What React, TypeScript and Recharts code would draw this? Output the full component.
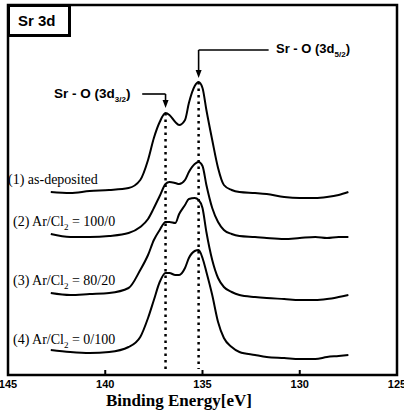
import React from "react"
import { LineChart, Line, XAxis, YAxis, ReferenceLine, ReferenceArea } from "recharts"

// binding energy grid (eV)
const energy = [
  142.8, 141.8, 140.8, 139.8, 138.8, 138.2, 137.8, 137.5, 137.2, 136.9, 136.7, 136.4, 136.2, 135.9, 135.7, 135.4,
  135.2, 135.0, 134.8, 134.5, 134.2, 133.9, 133.5, 133.1, 132.3, 131.7, 130.8, 130.0, 129.2, 128.6, 128.0, 127.5,
]

// stacked intensities (a.u., offsets included)
const asDeposited = [
  183, 182, 184, 185, 187, 195, 215, 237, 253, 262, 260, 253, 250, 255, 272, 289,
  293, 287, 265, 235, 207, 190, 185, 183, 182, 181, 178, 177, 177, 178, 180, 183,
]
const arCl100_0 = [
  141, 138, 138, 139, 142, 148, 156, 167, 179, 191, 193, 192, 191, 195, 203, 211,
  213, 209, 190, 167, 153, 145, 141, 139, 138, 137, 136, 137, 138, 137, 138, 138,
]
const arCl80_20 = [
  82, 80, 81, 82, 87, 105, 120, 135, 145, 153, 153, 152, 161, 170, 176, 177,
  175, 167, 143, 115, 97, 88, 83, 80, 78, 77, 76, 75, 75, 76, 78, 80,
]
const arCl0_100 = [
  25, 23, 22, 23, 28, 38, 57, 75, 93, 102, 102, 100, 100, 107, 117, 124,
  125, 117, 103, 80, 53, 37, 28, 23, 20, 18, 17, 16, 16, 18, 19, 20,
]

const xTicks = [145, 140, 135, 130, 125]
const peak32 = 136.9
const peak52 = 135.2

const data = energy.map((e, i) => ({
  e,
  s1: asDeposited[i],
  s2: arCl100_0[i],
  s3: arCl80_20[i],
  s4: arCl0_100[i],
}))

const SANS = "'Liberation Sans', Arial, sans-serif"
const SERIF = "'Liberation Serif', 'Times New Roman', serif"

const EnergyTick = (props: any) => {
  const { x, y, payload } = props
  const v = payload.value
  const inner = v !== 145 && v !== 125
  return (
    <g>
      {inner && <line x1={x} y1={y} x2={x} y2={y - 5} stroke="#000" strokeWidth={2} />}
      <text x={x} y={y + 13} textAnchor="middle" fontFamily={SANS} fontWeight="bold" fontSize={11} fill="#000">
        {v}
      </text>
    </g>
  )
}

// line with a filled arrowhead at its end (pointing down)
const arrowDown = (props: any) => {
  const { x1, y1, x2, y2 } = props
  return (
    <g>
      <line x1={x1} y1={y1} x2={x2} y2={y2 - 4} stroke="#000" strokeWidth={1.6} />
      <polygon points={`${x2 - 3},${y2 - 8} ${x2 + 3},${y2 - 8} ${x2},${y2}`} fill="#000" />
    </g>
  )
}

const plainLine = (props: any) => {
  const { x1, y1, x2, y2 } = props
  return <line x1={x1} y1={y1} x2={x2} y2={y2} stroke="#000" strokeWidth={1.6} />
}

const sampleLabels = [
  { n: "(1) as-deposited", ratio: "", top: 172, left: 8 },
  { n: "(2) Ar/Cl", ratio: " = 100/0", top: 214, left: 13 },
  { n: "(3) Ar/Cl", ratio: " = 80/20", top: 273, left: 13 },
  { n: "(4) Ar/Cl", ratio: " = 0/100", top: 332, left: 13 },
]

export default function App() {
  return (
    <div style={{ position: "relative", width: 404, height: 419, background: "#fff" }}>
      <style>{"body{margin:0}"}</style>
      <LineChart width={404} height={419} data={data} margin={{ top: 5, right: 7, left: 8, bottom: 0 }}>
        <XAxis
          dataKey="e"
          type="number"
          domain={[125, 145]}
          reversed
          ticks={xTicks}
          height={44}
          axisLine={false}
          tickLine={false}
          tickSize={0}
          tickMargin={0}
          tick={EnergyTick}
          interval={0}
        />
        <YAxis hide domain={[0, 370]} />
        <ReferenceArea x1={145} x2={125} y1={0} y2={370} fill="none" stroke="#000" strokeWidth={2.5} ifOverflow="visible" />

        <ReferenceLine segment={[{ x: peak32, y: 262 }, { x: peak32, y: 6 }]} stroke="#000" strokeWidth={2.5} strokeDasharray="2.5 4" ifOverflow="visible" />
        <ReferenceLine segment={[{ x: peak52, y: 293 }, { x: peak52, y: 6 }]} stroke="#000" strokeWidth={2.5} strokeDasharray="2.5 4" ifOverflow="visible" />

        <ReferenceLine segment={[{ x: 138.1, y: 281 }, { x: peak32, y: 281 }]} shape={plainLine} ifOverflow="visible" />
        <ReferenceLine segment={[{ x: peak32, y: 281 }, { x: peak32, y: 267 }]} shape={arrowDown} ifOverflow="visible" />
        <ReferenceLine segment={[{ x: peak52, y: 325 }, { x: 131.6, y: 325 }]} shape={plainLine} ifOverflow="visible" />
        <ReferenceLine segment={[{ x: peak52, y: 325 }, { x: peak52, y: 297 }]} shape={arrowDown} ifOverflow="visible" />

        <Line dataKey="s1" type="monotone" stroke="#000" strokeWidth={2} dot={false} isAnimationActive={false} />
        <Line dataKey="s2" type="monotone" stroke="#000" strokeWidth={2} dot={false} isAnimationActive={false} />
        <Line dataKey="s3" type="monotone" stroke="#000" strokeWidth={2} dot={false} isAnimationActive={false} />
        <Line dataKey="s4" type="monotone" stroke="#000" strokeWidth={2} dot={false} isAnimationActive={false} />
      </LineChart>

      <div
        style={{
          position: "absolute", left: 8, top: 5, width: 50, height: 27, background: "#fff",
          borderLeft: "2px solid #000", borderTop: "2px solid #000", borderRight: "3px solid #000", borderBottom: "3px solid #000",
          fontFamily: SANS, fontWeight: "bold", fontSize: 15, lineHeight: "27px", paddingLeft: 8, boxSizing: "content-box",
        }}
      >
        Sr 3d
      </div>

      <div style={{ position: "absolute", left: 54, top: 86, fontFamily: SANS, fontWeight: "bold", fontSize: 13.5, lineHeight: "15px", whiteSpace: "nowrap" }}>
        Sr - O (3d<sub style={{ fontSize: 8 }}>3/2</sub>)
      </div>
      <div style={{ position: "absolute", left: 276, top: 41, fontFamily: SANS, fontWeight: "bold", fontSize: 13, lineHeight: "15px", whiteSpace: "nowrap" }}>
        Sr - O (3d<sub style={{ fontSize: 8 }}>5/2</sub>)
      </div>

      {sampleLabels.map((s) => (
        <div key={s.n} style={{ position: "absolute", left: s.left, top: s.top, fontFamily: SERIF, fontSize: 14, lineHeight: "15px", whiteSpace: "nowrap" }}>
          {s.n}
          {s.ratio && <sub style={{ fontSize: 9 }}>2</sub>}
          {s.ratio}
        </div>
      ))}

      <div style={{ position: "absolute", left: 0, width: 358, top: 392, textAlign: "center", fontFamily: SERIF, fontWeight: "bold", fontSize: 17, lineHeight: "18px" }}>
        Binding Energy[eV]
      </div>
    </div>
  )
}
